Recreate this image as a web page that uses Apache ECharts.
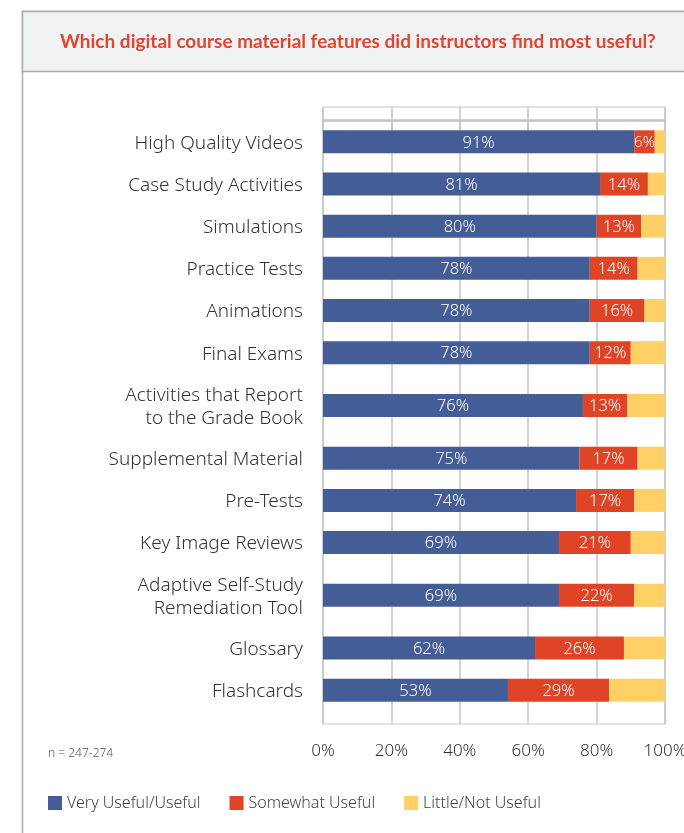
<!DOCTYPE html>
<html><head><meta charset="utf-8">
<script src="https://cdn.jsdelivr.net/npm/echarts@6/dist/echarts.min.js"></script>
<style>html,body{margin:0;padding:0;background:#fff}#c{width:684px;height:833px}</style>
</head><body><div id="c"></div>
<script>
const categories = ['High Quality Videos','Case Study Activities','Simulations','Practice Tests','Animations','Final Exams','Activities that Report\nto the Grade Book','Supplemental Material','Pre-Tests','Key Image Reviews','Adaptive Self-Study\nRemediation Tool','Glossary','Flashcards'];
const seriesNames = ['Very Useful/Useful','Somewhat Useful','Little/Not Useful'];
const veryUseful = [91,81,80,78,78,78,76,75,74,69,69,62,53];
const somewhatUseful = [6,14,13,14,16,12,13,17,17,21,22,26,29];
const littleUseful = [3,5,7,8,6,10,11,8,9,10,9,12,16];
const tickValues = [0,20,40,60,80,100];

const colors = ['#445d96','#e04427','#fed066'];
const FONT = 'Lato, "Noto Sans", sans-serif';
const FONT2 = '"Noto Sans", Lato, sans-serif';

// vertical slot positions derived from label line counts
let acc = 0;
const positions = categories.map(c => { const h = c.includes('\n') ? 3 : 2; acc += h; const v = acc; acc += h; return v; });

const groups = [veryUseful, somewhatUseful, littleUseful];
const segData = groups.map((arr, gi) => arr.map((v, i) => {
  const total = veryUseful[i] + somewhatUseful[i] + littleUseful[i];
  let start = 0; for (let k = 0; k < gi; k++) start += groups[k][i];
  return [start / total * 100, (start + v) / total * 100, positions[i], v];
}));

function renderSeg(showLabel) {
  return function (params, api) {
    const s = api.coord([api.value(0), api.value(2)]);
    const e = api.coord([api.value(1), api.value(2)]);
    const h = 23;
    const w = e[0] - s[0];
    const children = [{ type: 'rect', shape: { x: s[0], y: s[1] - h / 2, width: w, height: h }, style: { fill: api.visual('color') } }];
    if (showLabel) children.push({ type: 'text', style: { text: api.value(3) + '%', x: (s[0] + e[0]) / 2, y: s[1] + 1, align: 'center', verticalAlign: 'middle', fill: '#fff', font: '300 ' + (w < 30 ? 15 : 16.5) + 'px ' + FONT2 } });
    return { type: 'group', children };
  };
}

const chart = echarts.init(document.getElementById('c'), null, { renderer: 'canvas' });
chart.setOption({
  animation: false,
  graphic: [
    { type: 'rect', z: -10, shape: { x: 22.5, y: 11.5, width: 700, height: 900 }, style: { fill: '#fff', stroke: '#a9a9a9', lineWidth: 1.5 } },
    { type: 'rect', z: -9, shape: { x: 22.5, y: 11.5, width: 700, height: 60 }, style: { fill: '#f1f2f4', stroke: '#a9a9a9', lineWidth: 1.5 } },
    { type: 'text', left: 60, top: 32, style: { text: 'Which digital course material features did instructors find most useful?', fill: '#e2452b', font: 'bold 19px ' + FONT } },
    { type: 'text', left: 48, top: 748, style: { text: 'n = 247-274', fill: '#555', font: '300 12px ' + FONT2 } }
  ],
  legend: {
    data: seriesNames, left: 48, top: 795, itemWidth: 14, itemHeight: 14, itemGap: 29, icon: 'rect', padding: 0,
    textStyle: { fontSize: 16, fontWeight: 300, color: '#444', fontFamily: FONT2 }
  },
  grid: { left: 323, right: 19, top: 107, bottom: 109, outerBoundsMode: 'none', containLabel: false, show: true, borderColor: '#c8c8c8', borderWidth: 1 },
  xAxis: {
    type: 'value', min: 0, max: 100, interval: 20,
    axisLine: { show: true, lineStyle: { color: '#c4c4c4', width: 2.5 } },
    axisTick: { show: true, length: 12, lineStyle: { color: '#c4c4c4', width: 1.5 } },
    splitLine: { show: true, lineStyle: { color: '#c4c4c4', width: 1.5 } },
    axisLabel: { formatter: v => tickValues.includes(v) ? v + '%' : '', margin: 19, fontSize: 17, fontWeight: 300, color: '#333', fontFamily: FONT2, hideOverlap: false }
  },
  yAxis: { type: 'value', inverse: true, min: -1.3, max: 57.2, show: false, splitLine: { show: false } },
  series: [
    ...groups.map((g, gi) => ({
      type: 'custom', name: seriesNames[gi], itemStyle: { color: colors[gi] },
      encode: { x: [0, 1], y: 2 }, data: segData[gi], renderItem: renderSeg(gi < 2), z: 3
    })),
    {
      type: 'custom', name: 'labels', silent: true, encode: { x: 0, y: 1 },
      data: positions.map(p => [0, p]),
      renderItem: (params, api) => {
        const c = api.coord([0, api.value(1)]);
        return { type: 'text', style: { text: categories[params.dataIndex], x: c[0] - 20, y: c[1] + 1.5, align: 'right', verticalAlign: 'middle', fill: '#333', font: '300 19px ' + FONT2, lineHeight: 23 } };
      }
    }
  ]
});
</script></body></html>
